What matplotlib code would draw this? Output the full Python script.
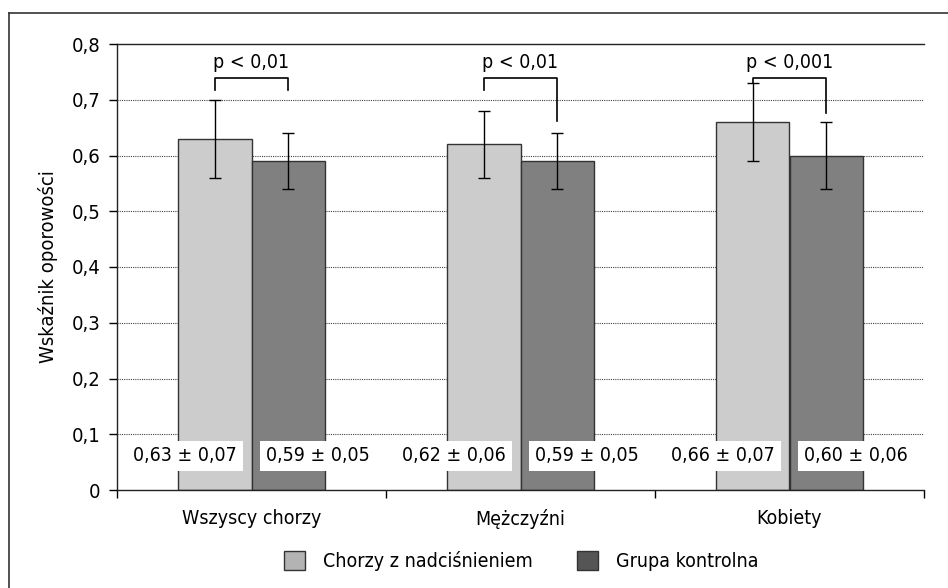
import matplotlib
matplotlib.use("Agg")
import matplotlib.pyplot as plt
from matplotlib.patches import Patch
from matplotlib.lines import Line2D
import numpy as np

plt.rcParams['font.family'] = ['DejaVu Sans']
plt.rcParams['font.stretch'] = 'condensed'

categories = ["Wszyscy chorzy", "Mężczyźni", "Kobiety"]
series_names = ["Chorzy z nadciśnieniem", "Grupa kontrolna"]
patients = [0.63, 0.62, 0.66]
patients_sd = [0.07, 0.06, 0.07]
controls = [0.59, 0.59, 0.60]
controls_sd = [0.05, 0.05, 0.06]
p_labels = ["p < 0,01", "p < 0,01", "p < 0,001"]
ylabel = "Wskaźnik oporowości"
yticks = [0, 0.1, 0.2, 0.3, 0.4, 0.5, 0.6, 0.7, 0.8]
ytick_labels = ["0", "0,1", "0,2", "0,3", "0,4", "0,5", "0,6", "0,7", "0,8"]

FS = 14

def fmt(v, s):
    return f"{v:.2f} ± {s:.2f}".replace(".", ",")

fig = plt.figure(figsize=(9.48, 5.88), dpi=100)
ax = fig.add_axes([117/948, 1-490/588, (924-117)/948, (490-44)/588])

x = np.arange(len(categories))
w = 0.272
off = 0.136
light, dark = "#cccccc", "#808080"
ax.bar(x - off, patients, w, color=light, edgecolor="#333333", linewidth=1, zorder=2)
ax.bar(x + off, controls, w, color=dark, edgecolor="#333333", linewidth=1, zorder=2)
ax.errorbar(x - off, patients, yerr=patients_sd, fmt="none", ecolor="black",
            elinewidth=1, capsize=4, capthick=1, zorder=3)
ax.errorbar(x + off, controls, yerr=controls_sd, fmt="none", ecolor="black",
            elinewidth=1, capsize=4, capthick=1, zorder=3)

ax.set_xlim(-0.5, 2.5)
ax.set_ylim(0, 0.8)
ax.set_yticks(yticks)
ax.set_yticklabels(ytick_labels, fontsize=FS + 0.5)
ax.set_xticks(x)
ax.set_xticklabels(categories, fontsize=FS)
ax.set_xticks([-0.5, 0.5, 1.5, 2.5], minor=True)
ax.tick_params(axis='x', which='major', length=0, pad=14)
ax.tick_params(axis='x', which='minor', length=6, direction='out', width=1)
ax.tick_params(axis='y', length=6, direction='out', width=1, pad=6)
for t in yticks[1:-1]:
    ax.axhline(t, color="#444444", linestyle=(0, (1, 1)), linewidth=0.8, zorder=1)
ax.spines['right'].set_visible(False)
for s in ['left', 'bottom', 'top']:
    ax.spines[s].set_linewidth(1)
    ax.spines[s].set_color("#222222")
ax.set_ylabel(ylabel, fontsize=14.5, labelpad=10)

# significance brackets: (left leg bottom, right leg bottom)
top_y = 0.739
leg_bottoms = [(0.717, 0.717), (0.717, 0.662), (0.73, 0.676)]
for i in range(len(categories)):
    l = x[i] - off
    r = x[i] + off
    lbot, rbot = leg_bottoms[i]
    ax.plot([l, l, r, r], [lbot, top_y, top_y, rbot], color="black", linewidth=1.2,
            zorder=4, clip_on=False)
    ax.text(x[i], top_y + 0.01, p_labels[i], ha="center", va="bottom", fontsize=FS)

# value labels
for i in range(len(categories)):
    ax.text(x[i] - off - 0.11, 0.061, fmt(patients[i], patients_sd[i]), ha="center",
            va="center", fontsize=FS, zorder=5,
            bbox=dict(boxstyle="square,pad=0.3", facecolor="white", edgecolor="none"))
    ax.text(x[i] + off + 0.11, 0.061, fmt(controls[i], controls_sd[i]), ha="center",
            va="center", fontsize=FS, zorder=5,
            bbox=dict(boxstyle="square,pad=0.3", facecolor="white", edgecolor="none"))

handles = [Patch(facecolor="#b3b3b3", edgecolor="#333333", label=series_names[0]),
           Patch(facecolor="#555555", edgecolor="#333333", label=series_names[1])]
fig.legend(handles=handles, loc="center", bbox_to_anchor=(521/948, 1-561/588), ncol=2,
           frameon=False, fontsize=FS, handlelength=1.1, handleheight=1.1,
           columnspacing=2.3, handletextpad=0.9)

# outer frame (left and top)
fig.add_artist(Line2D([9/948, 9/948], [0, 1-13/588], transform=fig.transFigure,
                      color="#333333", linewidth=1.2))
fig.add_artist(Line2D([9/948, 1], [1-13/588, 1-13/588], transform=fig.transFigure,
                      color="#333333", linewidth=1.2))

fig.savefig("out.png", dpi=100)
